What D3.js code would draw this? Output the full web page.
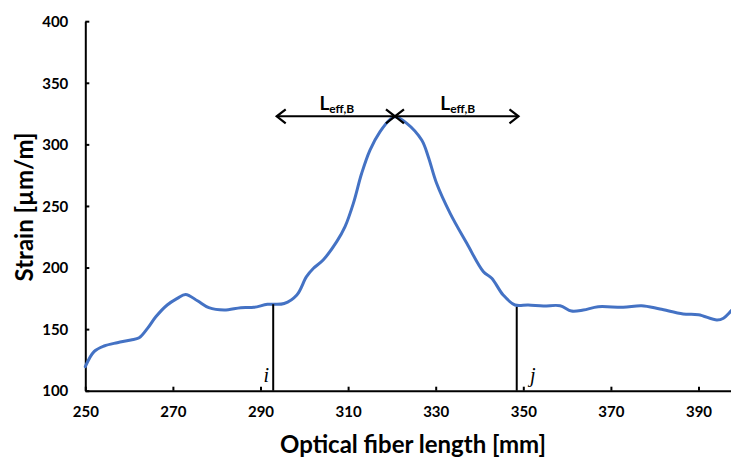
<!DOCTYPE html>
<html>
<head>
<meta charset="utf-8">
<script src="https://cdn.jsdelivr.net/npm/d3@7/dist/d3.min.js"></script>
<style>
  html, body { margin: 0; padding: 0; background: #fff; }
  svg { display: block; }
</style>
</head>
<body>
<svg id="chart" width="731" height="458"></svg>
<script>
// ---- data ----
const position = [250, 252, 254.3, 257.3, 260.4, 262.3, 264.2, 266.1, 268.7, 271, 272.9, 275.6, 278.2, 281.7, 285.5, 288.5, 291.6, 295.4,
  298.3, 300.5, 302.1, 304.3, 307.4, 309.3, 311.2, 313.1, 315, 317.3, 319.6, 320.7,
  323.4, 326.8, 328.3, 330.2, 333.3, 337.1, 340.9, 342.8, 345.4, 348.1, 351.1, 354.6, 358.4, 361, 363.7, 367.1, 372.8, 377, 381.2, 386.5, 390, 394.2, 395.7, 397.6];
const strain = [119.5, 131.7, 136.3, 139, 141.2, 143, 150.6, 160, 169.6, 175, 178.2, 173, 167.4, 165.5, 167.4, 167.7, 170.1, 170.8,
  177.7, 192.6, 199.4, 206.1, 221, 233.2, 252.1, 276.5, 295.4, 310.3, 320.3, 322.4,
  317.1, 303.5, 290, 268.4, 244, 219.7, 196.6, 191.3, 177.7, 169.6, 169.6, 168.8, 169, 164.7, 165.5, 168.2, 167.7, 169, 166.3, 162.3, 161.7, 157.4, 158.8, 165.5];
const xTicks = [250, 270, 290, 310, 330, 350, 370, 390];
const yTicks = [100, 150, 200, 250, 300, 350, 400];
const markerPos = [292.9, 348.5];
const markerStrain = [170.2, 168.0];
const markerLabels = ["i", "j"];
const arrowStrain = 322.8;
const arrowX = [293.7, 320.7, 348.9];
const leffMain = "L";
const leffSub = "eff,B";

// ---- scales ----
const svg = d3.select("#chart");
const x = d3.scaleLinear().domain([250, 400]).range([85.3, 85.3 + 150 * 4.38]);
const y = d3.scaleLinear().domain([100, 400]).range([390.7, 21.2]);

const font = "Lato, 'Open Sans', sans-serif";

// axes
const xAxis = d3.axisBottom(x).tickValues(xTicks).tickSizeInner(-4).tickSizeOuter(0).tickPadding(16);
const yAxis = d3.axisLeft(y).tickValues(yTicks).tickSizeInner(-4).tickSizeOuter(0).tickPadding(17);

const gx = svg.append("g").attr("transform", `translate(0,${y(100)})`).call(xAxis);
const gy = svg.append("g").attr("transform", `translate(${x(250)},0)`).call(yAxis);
[gx, gy].forEach(g => {
  g.select(".domain").attr("stroke", "#000").attr("stroke-width", 2);
  g.selectAll(".tick line").attr("stroke", "#000").attr("stroke-width", 2);
  g.selectAll(".tick text").attr("fill", "#000").style("font-family", font)
    .style("font-size", "15px").style("font-weight", "700");
});
gy.selectAll(".tick text").attr("dy", "0.35em");

// line
const line = d3.line().x((d, i) => x(position[i])).y((d, i) => y(strain[i])).curve(d3.curveCatmullRom.alpha(0.5));
svg.append("path").datum(strain).attr("d", line)
  .attr("fill", "none").attr("stroke", "#4472C4").attr("stroke-width", 3)
  .attr("stroke-linejoin", "round").attr("stroke-linecap", "round");

// vertical markers
markerPos.forEach((p, k) => {
  svg.append("line").attr("x1", x(p)).attr("x2", x(p)).attr("y1", y(100)).attr("y2", y(markerStrain[k]))
    .attr("stroke", "#000").attr("stroke-width", 2);
});
const serif = "'Liberation Serif', 'DejaVu Serif', serif";
svg.append("text").attr("x", x(markerPos[0]) - 7).attr("y", y(100) - 9)
  .attr("text-anchor", "middle").style("font-family", serif)
  .style("font-style", "italic").style("font-size", "20px").text(markerLabels[0]);
svg.append("text").attr("x", x(markerPos[1]) + 16).attr("y", y(100) - 9)
  .attr("text-anchor", "middle").style("font-family", serif)
  .style("font-style", "italic").style("font-size", "20px").text(markerLabels[1]);

// arrows
const ay = y(arrowStrain);
function arrow(x1, x2) {
  svg.append("line").attr("x1", x1).attr("x2", x2).attr("y1", ay).attr("y2", ay)
    .attr("stroke", "#000").attr("stroke-width", 2);
  const h = 7, w = 9;
  svg.append("path").attr("d", `M${x1 + w},${ay - h}L${x1},${ay}L${x1 + w},${ay + h}`)
    .attr("fill", "none").attr("stroke", "#000").attr("stroke-width", 2.2);
  svg.append("path").attr("d", `M${x2 - w},${ay - h}L${x2},${ay}L${x2 - w},${ay + h}`)
    .attr("fill", "none").attr("stroke", "#000").attr("stroke-width", 2.2);
}
arrow(x(arrowX[0]), x(arrowX[1]));
arrow(x(arrowX[1]), x(arrowX[2]));

[[arrowX[0], arrowX[1]], [arrowX[1], arrowX[2]]].forEach(([a, b]) => {
  const t = svg.append("text").attr("x", (x(a) + x(b)) / 2 + 1).attr("y", ay - 6)
    .attr("text-anchor", "middle").style("font-family", font).style("font-weight", "700");
  t.append("tspan").style("font-size", "19px").text(leffMain);
  t.append("tspan").style("font-size", "12px").attr("dy", 3).text(leffSub);
});

// axis titles
svg.append("text").attr("x", 413).attr("y", 453)
  .attr("text-anchor", "middle").style("font-family", font).style("font-weight", "700")
  .style("font-size", "24px").text("Optical fiber length [mm]");
svg.append("text").attr("transform", `translate(33,207) rotate(-90)`)
  .attr("text-anchor", "middle").style("font-family", font).style("font-weight", "700")
  .style("font-size", "24px").text("Strain [µm/m]");
</script>
</body>
</html>
